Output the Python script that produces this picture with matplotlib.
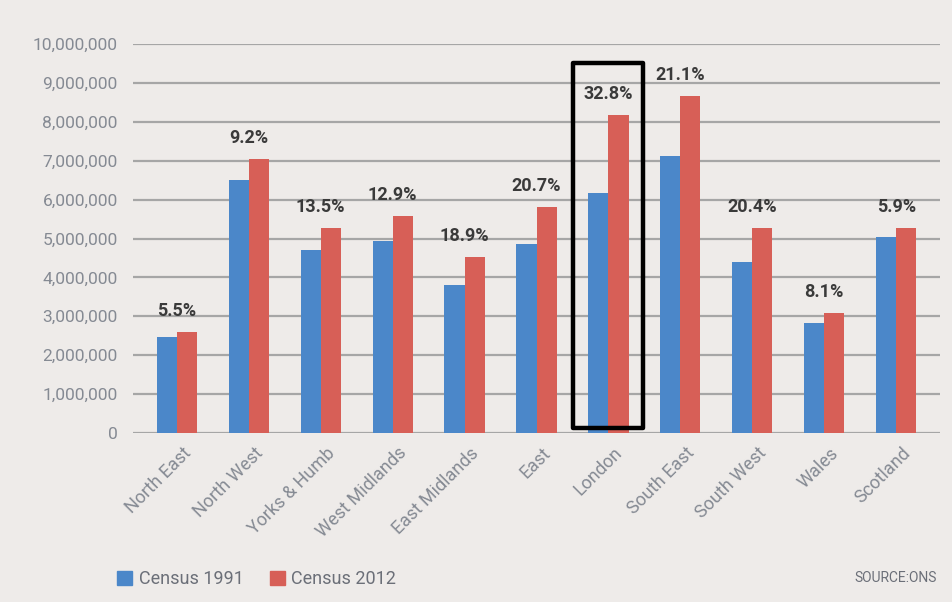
import numpy as np
import matplotlib
matplotlib.use("Agg")
import matplotlib.pyplot as plt
import matplotlib.transforms as mtransforms
from matplotlib.patches import Patch, Rectangle
from matplotlib.ticker import FuncFormatter

# -----------------------------
# DATA (population, millions)
# -----------------------------
regions = ["North East", "North West", "Yorks & Humb", "West Midlands", "East Midlands",
           "East", "London", "South East", "South West", "Wales", "Scotland"]
census_1991 = [2.47, 6.50, 4.70, 4.94, 3.80, 4.86, 6.17, 7.12, 4.40, 2.83, 5.04]
census_2012 = [2.60, 7.04, 5.27, 5.58, 4.52, 5.81, 8.17, 8.66, 5.27, 3.08, 5.27]
growth = ["5.5%", "9.2%", "13.5%", "12.9%", "18.9%", "20.7%",
          "32.8%", "21.1%", "20.4%", "8.1%", "5.9%"]
highlight = "London"
box_low, box_high = 0.13, 9.5   # highlight box, millions

# -----------------------------
# STYLE
# -----------------------------
bg = "#eeebe9"
blue = "#4b87c9"
red = "#d75f57"
grey_txt = "#858a93"
plt.rcParams["font.family"] = ["Roboto", "DejaVu Sans"]

fig = plt.figure(figsize=(9.52, 6.02), dpi=100, facecolor=bg)
ax = fig.add_axes([133 / 952, 1 - 433 / 602, (940 - 133) / 952, (433 - 44) / 602])
ax.set_facecolor(bg)

x = np.arange(len(regions))
w = 0.28
v91 = np.array(census_1991) * 1e6
v12 = np.array(census_2012) * 1e6
ax.bar(x - w / 2, v91, w, color=blue, zorder=3)
ax.bar(x + w / 2, v12, w, color=red, zorder=3)

# growth labels above each pair
for xi, top, lab in zip(x, v12, growth):
    ax.annotate(lab, (xi, top), xytext=(0, 8.5), textcoords="offset points",
                ha="center", va="bottom", fontsize=13, fontweight="bold", color="#3a3a3a")

# highlight box around London
hi = regions.index(highlight)
ax.add_patch(Rectangle((hi - 0.49, box_low * 1e6), 0.97, (box_high - box_low) * 1e6,
                       fill=False, ec="black", lw=3.2, joinstyle="round",
                       clip_on=False, zorder=5))

ax.set_xlim(-0.61, len(regions) - 0.39)
ax.set_ylim(0, 10e6)
ax.set_yticks(np.arange(0, 10.5e6, 1e6))
ax.yaxis.set_major_formatter(FuncFormatter(lambda v, p: f"{v:,.0f}"))
ax.yaxis.grid(True, color="#a6a6a6", lw=1.6, zorder=0)
ax.set_axisbelow(True)
for s in ax.spines.values():
    s.set_visible(False)

ax.set_xticks(x)
ax.set_xticklabels(regions, rotation=45, ha="right", va="top", rotation_mode="anchor")
ax.tick_params(axis="both", length=0, labelsize=13, labelcolor=grey_txt)
ax.tick_params(axis="y", pad=11, labelsize=12.5)
ax.tick_params(axis="x", pad=8)
shift = mtransforms.ScaledTranslation(5 / 100, 0, fig.dpi_scale_trans)
for lbl in ax.get_xticklabels():
    lbl.set_transform(lbl.get_transform() + shift)

# legend + source
handles = [Patch(color=blue, label="Census 1991"), Patch(color=red, label="Census 2012")]
leg = fig.legend(handles=handles, loc="lower left", bbox_to_anchor=(117 / 952, 1 - 588 / 602),
                 ncol=2, frameon=False, fontsize=13, handlelength=0.85, handleheight=0.85,
                 handletextpad=0.35, columnspacing=1.45, borderpad=0, borderaxespad=0)
for t in leg.get_texts():
    t.set_color("#6b6f78")
fig.text(937 / 952, 1 - 578 / 602, "SOURCE:ONS", ha="right", va="center",
         fontsize=10, color="#6b6f78")

fig.savefig("out.png", dpi=100, facecolor=bg)
